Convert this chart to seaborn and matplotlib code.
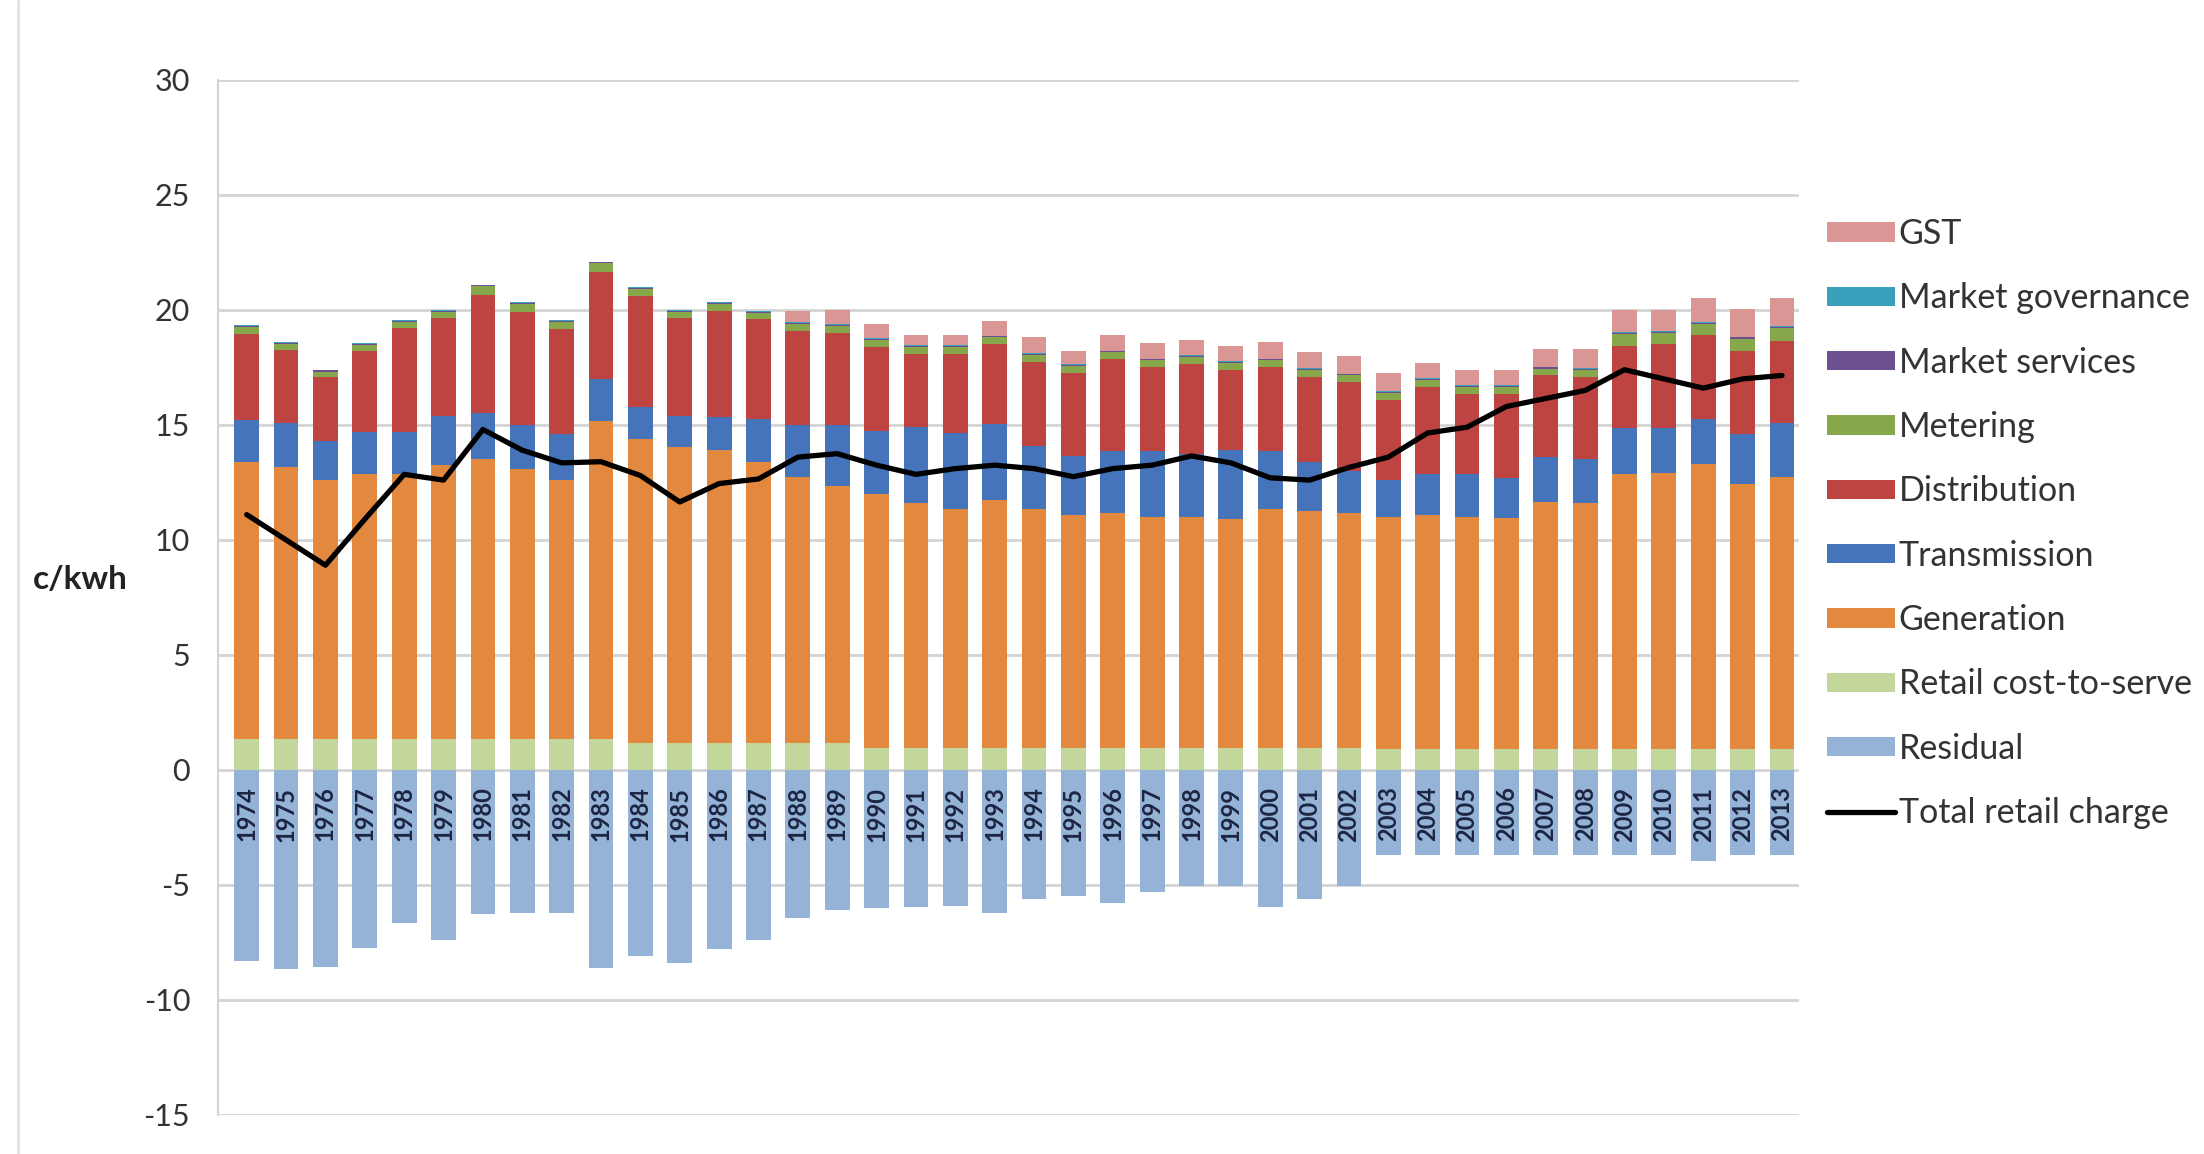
import numpy as np
import pandas as pd
import matplotlib
matplotlib.use('Agg')
import matplotlib.pyplot as plt
from matplotlib.lines import Line2D
import seaborn as sns

# Cost components of the retail electricity price, c/kWh, 1974-2013
YEARS = ['1974', '1975', '1976', '1977', '1978', '1979', '1980', '1981', '1982', '1983',
         '1984', '1985', '1986', '1987', '1988', '1989', '1990', '1991', '1992', '1993',
         '1994', '1995', '1996', '1997', '1998', '1999', '2000', '2001', '2002', '2003',
         '2004', '2005', '2006', '2007', '2008', '2009', '2010', '2011', '2012', '2013']

RETAIL = [1.35, 1.35, 1.35, 1.35, 1.35, 1.35, 1.35, 1.35, 1.35, 1.35,
          1.15, 1.15, 1.15, 1.15, 1.15, 1.15, 0.95, 0.95, 0.95, 0.95,
          0.95, 0.95, 0.95, 0.95, 0.95, 0.95, 0.95, 0.95, 0.95, 0.9,
          0.9, 0.9, 0.9, 0.9, 0.9, 0.9, 0.9, 0.9, 0.9, 0.9]
GENERATION = [12.05, 11.8, 11.25, 11.5, 11.5, 11.9, 12.15, 11.75, 11.25, 13.8,
              13.25, 12.9, 12.75, 12.25, 11.6, 11.2, 11.05, 10.65, 10.4, 10.8,
              10.4, 10.15, 10.2, 10.05, 10.05, 9.95, 10.4, 10.3, 10.2, 10.1,
              10.2, 10.1, 10.05, 10.75, 10.7, 11.95, 12.0, 12.4, 11.55, 11.85]
TRANSMISSION = [1.8, 1.95, 1.7, 1.85, 1.85, 2.15, 2.0, 1.9, 2.0, 1.85,
                1.4, 1.35, 1.45, 1.85, 2.25, 2.65, 2.75, 3.3, 3.3, 3.3,
                2.75, 2.55, 2.7, 2.85, 2.75, 3.0, 2.5, 2.15, 1.85, 1.6,
                1.75, 1.85, 1.75, 1.95, 1.9, 2.0, 1.95, 1.95, 2.15, 2.35]
DISTRIBUTION = [3.75, 3.15, 2.8, 3.5, 4.5, 4.25, 5.15, 4.9, 4.55, 4.65,
                4.8, 4.25, 4.6, 4.35, 4.1, 4.0, 3.65, 3.2, 3.45, 3.45,
                3.65, 3.6, 4.0, 3.65, 3.9, 3.5, 3.65, 3.7, 3.85, 3.5,
                3.8, 3.5, 3.65, 3.55, 3.6, 3.6, 3.65, 3.65, 3.6, 3.55]
METERING = [0.32, 0.27, 0.22, 0.27, 0.27, 0.27, 0.37, 0.37, 0.32, 0.37,
            0.32, 0.27, 0.32, 0.27, 0.3, 0.3, 0.3, 0.3, 0.3, 0.3,
            0.3, 0.3, 0.3, 0.3, 0.3, 0.3, 0.3, 0.3, 0.3, 0.3,
            0.3, 0.3, 0.3, 0.3, 0.3, 0.5, 0.5, 0.5, 0.55, 0.55]
SERVICES = [0.05, 0.05, 0.05, 0.05, 0.05, 0.05, 0.05, 0.05, 0.05, 0.05,
            0.05, 0.05, 0.05, 0.05, 0.05, 0.05, 0.05, 0.05, 0.05, 0.05,
            0.05, 0.05, 0.05, 0.05, 0.05, 0.05, 0.05, 0.05, 0.05, 0.05,
            0.05, 0.05, 0.05, 0.05, 0.05, 0.05, 0.05, 0.05, 0.05, 0.05]
GOVERNANCE = [0.03, 0.03, 0.03, 0.03, 0.03, 0.03, 0.03, 0.03, 0.03, 0.03,
              0.03, 0.03, 0.03, 0.03, 0.03, 0.03, 0.03, 0.03, 0.03, 0.03,
              0.03, 0.03, 0.03, 0.03, 0.03, 0.03, 0.03, 0.03, 0.03, 0.03,
              0.03, 0.03, 0.03, 0.03, 0.03, 0.03, 0.03, 0.03, 0.03, 0.03]
GST = [0, 0, 0, 0, 0, 0, 0, 0, 0, 0,
       0, 0, 0, 0, 0.47, 0.62, 0.62, 0.42, 0.42, 0.62,
       0.67, 0.57, 0.67, 0.67, 0.67, 0.67, 0.72, 0.67, 0.77, 0.77,
       0.67, 0.67, 0.67, 0.77, 0.82, 0.97, 0.92, 1.02, 1.22, 1.22]
RESIDUAL = [-8.3, -8.65, -8.55, -7.75, -6.65, -7.4, -6.25, -6.2, -6.2, -8.6,
            -8.1, -8.4, -7.8, -7.4, -6.45, -6.1, -6.0, -5.95, -5.9, -6.2,
            -5.6, -5.5, -5.8, -5.3, -5.05, -5.05, -5.95, -5.6, -5.05, -3.7,
            -3.7, -3.7, -3.7, -3.7, -3.7, -3.7, -3.7, -3.95, -3.7, -3.7]
TOTAL = [11.1, 10.0, 8.9, 10.9, 12.85, 12.6, 14.8, 13.9, 13.35, 13.4,
         12.8, 11.65, 12.45, 12.65, 13.6, 13.75, 13.25, 12.85, 13.1, 13.25,
         13.1, 12.75, 13.1, 13.25, 13.65, 13.35, 12.7, 12.6, 13.15, 13.6,
         14.65, 14.9, 15.8, 16.15, 16.5, 17.4, 17.0, 16.6, 17.0, 17.15]

# stacking order, bottom to top
LAYERS = ['Retail cost-to-serve', 'Generation', 'Transmission', 'Distribution',
          'Metering', 'Market services', 'Market governance', 'GST']
COLORS = {
    'GST': '#D99694',
    'Market governance': '#3A9FBA',
    'Market services': '#6B5092',
    'Metering': '#86A84A',
    'Distribution': '#BE4441',
    'Transmission': '#4674BA',
    'Generation': '#E3883F',
    'Retail cost-to-serve': '#C3D69B',
    'Residual': '#95B3D7',
}
LEGEND_ORDER = ['GST', 'Market governance', 'Market services', 'Metering', 'Distribution',
                'Transmission', 'Generation', 'Retail cost-to-serve', 'Residual',
                'Total retail charge']

df = pd.DataFrame({
    'Retail cost-to-serve': RETAIL,
    'Generation': GENERATION,
    'Transmission': TRANSMISSION,
    'Distribution': DISTRIBUTION,
    'Metering': METERING,
    'Market services': SERVICES,
    'Market governance': GOVERNANCE,
    'GST': GST,
})
cum = df[LAYERS].cumsum(axis=1)
pos = np.arange(len(YEARS))

sns.set_theme(style='white')
plt.rcParams['font.family'] = ['Lato', 'DejaVu Sans']
plt.rcParams['axes.unicode_minus'] = False

fig = plt.figure(figsize=(22.04, 11.54), dpi=100)
ax = fig.add_axes([0.0989, 0.0338, 0.7173, 0.897])

BAR_W = 0.63
# stacked bars: draw cumulative totals from the top layer down
for layer in reversed(LAYERS):
    sns.barplot(x=pos, y=cum[layer].values, native_scale=True, orient='x',
                color=COLORS[layer], saturation=1, width=BAR_W, linewidth=0,
                label=layer, ax=ax)
sns.barplot(x=pos, y=RESIDUAL, native_scale=True, orient='x',
            color=COLORS['Residual'], saturation=1, width=BAR_W, linewidth=0,
            label='Residual', ax=ax)
sns.lineplot(x=pos, y=TOTAL, color='black', linewidth=3.8, label='Total retail charge',
             ax=ax, zorder=4)

if ax.get_legend() is not None:
    ax.get_legend().remove()

# axes styling (Excel look)
ax.set_xlim(-0.73, 39.43)
ax.set_ylim(-15, 30)
ax.set_yticks(np.arange(-15, 31, 5))
ax.yaxis.grid(True, color='#D4D4D4', linewidth=2)
ax.xaxis.grid(False)
ax.set_axisbelow(True)
ax.xaxis.set_zorder(5)   # year labels sit on top of the residual bars
for side in ['top', 'right', 'bottom']:
    ax.spines[side].set_visible(False)
ax.spines['left'].set_color('#D4D4D4')
ax.spines['left'].set_linewidth(1.5)
ax.spines['bottom'].set_position(('data', 0))
ax.tick_params(axis='y', length=8, width=1.5, color='#D4D4D4', labelsize=22,
               labelcolor='#333333', pad=12)

ax.set_xticks(pos)
ax.set_xticklabels(YEARS, rotation=90, fontsize=17, fontweight='bold', color='#1C2541')
ax.tick_params(axis='x', length=0, pad=12)
ax.set_xlabel('')
ax.set_ylabel('c/kwh', rotation=0, fontsize=24, fontweight='bold', color='#222222')
ax.yaxis.set_label_coords(-0.087, 0.517)
ax.yaxis.label.set_va('center')
ax.yaxis.label.set_ha('center')

# legend on the right
handles, labels = ax.get_legend_handles_labels()
lookup = dict(zip(labels, handles))
fig.legend([lookup[l] for l in LEGEND_ORDER], LEGEND_ORDER,
           loc='upper left', bbox_to_anchor=(0.829, 0.811), frameon=False,
           fontsize=24.5, handlelength=2.0, handleheight=0.5, handletextpad=0.1,
           labelspacing=0.95, borderpad=0, borderaxespad=0, labelcolor='#333333')

# faint frame line on the left of the picture
fig.add_artist(Line2D([0.008, 0.008], [0.0, 1.0], color='#E2E2E2', linewidth=2,
                      transform=fig.transFigure))

fig.savefig('out.png', dpi=100, facecolor='white')
